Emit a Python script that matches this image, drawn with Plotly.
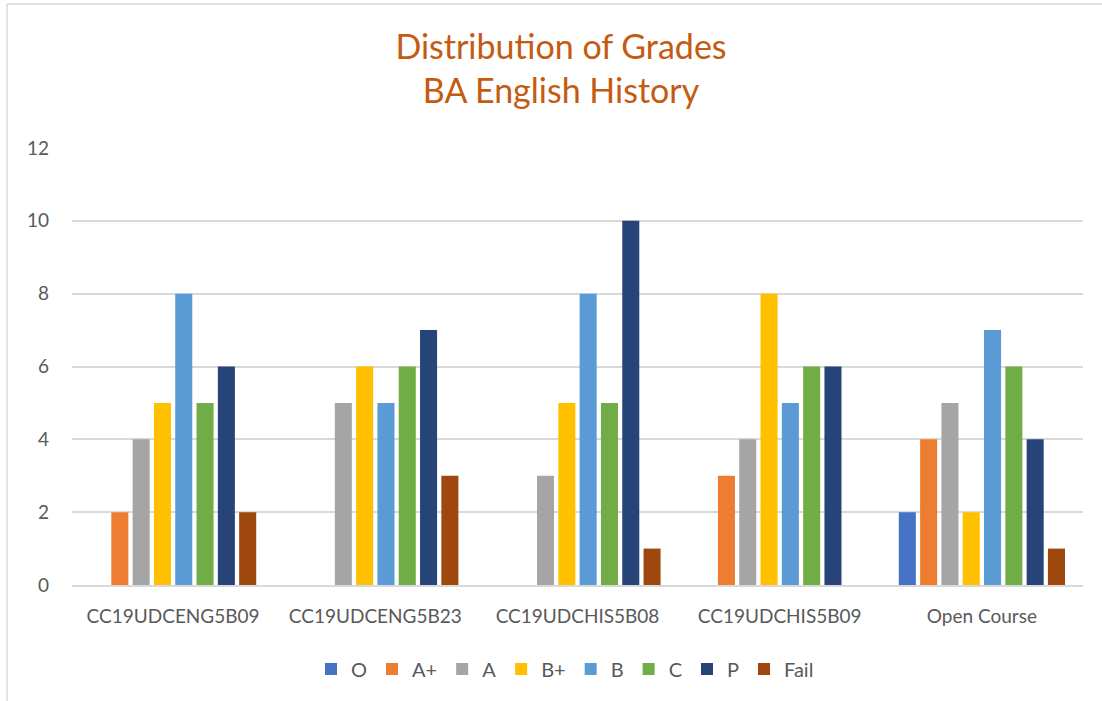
import plotly.graph_objects as go

categories = ["CC19UDCENG5B09", "CC19UDCENG5B23", "CC19UDCHIS5B08", "CC19UDCHIS5B09", "Open Course"]
grades = ["O", "A+", "A", "B+", "B", "C", "P", "Fail"]
O = [0, 0, 0, 0, 2]
A_plus = [2, 0, 0, 3, 4]
A = [4, 5, 3, 4, 5]
B_plus = [5, 6, 5, 8, 2]
B = [8, 5, 8, 5, 7]
C = [5, 6, 5, 6, 6]
P = [6, 7, 10, 6, 4]
Fail = [2, 3, 1, 0, 1]
series = [O, A_plus, A, B_plus, B, C, P, Fail]
colors = ["#4472C4", "#ED7D31", "#A5A5A5", "#FFC000", "#5B9BD5", "#70AD47", "#264478", "#9E480E"]

FONT = "Lato, Open Sans, sans-serif"

fig = go.Figure()
for name, vals, col in zip(grades, series, colors):
    fig.add_trace(go.Bar(name=name, x=categories, y=vals, marker=dict(color=col, line=dict(width=0))))

W, H = 1102, 701
L, R, T, B_ = 72, 19, 148, 116
pw, ph = W - L - R, H - T - B_

fig.update_layout(
    width=W, height=H,
    margin=dict(l=L, r=R, t=T, b=B_),
    paper_bgcolor="white", plot_bgcolor="white",
    barmode="group", bargap=0.157, bargroupgap=0.2,
    font=dict(family=FONT, color="#595959", size=19),
    title=dict(text="Distribution of Grades<br>BA English History", xref="container", x=561 / W,
               xanchor="center", yref="container", y=1 - 59 / H, yanchor="middle",
               font=dict(family=FONT, size=34, color="#C55A11")),
    showlegend=True,
    legend=dict(orientation="h", x=(565 - L) / pw, xanchor="center", y=(585 - 669) / ph, yanchor="middle",
                font=dict(size=20, color="#595959"), traceorder="normal", itemwidth=30,
                tracegroupgap=0),
    xaxis=dict(showgrid=False, showline=True, linecolor="#D9D9D9", linewidth=1.5, ticks="",
               ticklabelstandoff=13, tickfont=dict(size=19, color="#595959")),
    yaxis=dict(range=[0, 12], dtick=2, showgrid=True, gridcolor="#D9D9D9", gridwidth=1.5,
               zeroline=False, showline=False, ticks="", ticklabelstandoff=22,
               tickfont=dict(size=19, color="#595959")),
    shapes=[
        dict(type="line", xref="paper", yref="paper", x0=(7 - L) / pw, x1=(W + 5 - L) / pw,
             y0=(H - B_ - 4) / ph, y1=(H - B_ - 4) / ph, line=dict(color="#D9D9D9", width=1.5)),
        dict(type="line", xref="paper", yref="paper", x0=(7 - L) / pw, x1=(7 - L) / pw,
             y0=(H - B_ - 4) / ph, y1=(H - B_ - H - 5) / ph, line=dict(color="#D9D9D9", width=1.5)),
    ],
)

fig.write_html("out.html", config={"displayModeBar": False},
               post_script="document.body.style.margin='0';document.body.style.overflow='hidden';")
